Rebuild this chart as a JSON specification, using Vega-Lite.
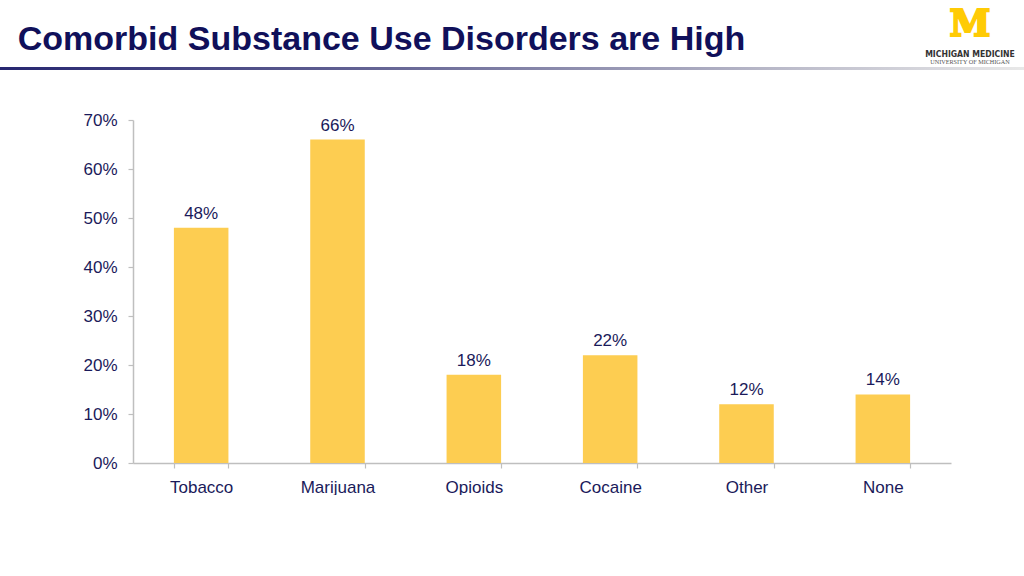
{
  "$schema": "https://vega.github.io/schema/vega-lite/v6.json",
  "padding": 0,
  "background": "white",
  "spacing": 0,
  "config": {"view": {"stroke": null}, "concat": {"spacing": 0}},
  "vconcat": [
    {
      "spacing": 153,
      "hconcat": [
        {
          "width": 763,
          "height": 67,
          "data": {"values": [{"t": "Comorbid Substance Use Disorders are High"}]},
          "mark": {"type": "text", "font": "Liberation Sans", "fontWeight": "bold", "fontSize": 34, "color": "#10105a", "baseline": "alphabetic", "align": "center", "dy": 16.5},
          "encoding": {"text": {"field": "t"}}
        },
        {
          "width": 108,
          "height": 67,
          "layer": [
            {
              "data": {"values": [{"t": "M"}]},
              "mark": {"type": "text", "font": "DejaVu Serif", "fontWeight": "bold", "fontSize": 37, "color": "#FFCB05", "stroke": "#FFCB05", "strokeWidth": 2, "baseline": "alphabetic", "align": "center", "dy": 2.5},
              "encoding": {"text": {"field": "t"}}
            },
            {
              "data": {"values": [{"t": "MICHIGAN MEDICINE"}]},
              "mark": {"type": "text", "font": "DejaVu Sans Condensed", "fontWeight": "bold", "fontSize": 8.6, "color": "#333333", "baseline": "alphabetic", "align": "center", "dy": 23},
              "encoding": {"text": {"field": "t"}}
            },
            {
              "data": {"values": [{"t": "UNIVERSITY OF MICHIGAN"}]},
              "mark": {"type": "text", "font": "Liberation Serif", "fontSize": 6.2, "color": "#555555", "baseline": "alphabetic", "align": "center", "dy": 30},
              "encoding": {"text": {"field": "t"}}
            }
          ]
        }
      ]
    },
    {
      "width": 1024,
      "height": 3,
      "data": {"values": [{}]},
      "mark": {
        "type": "rect",
        "fill": {
          "gradient": "linear",
          "x1": 0, "y1": 0, "x2": 1, "y2": 0,
          "stops": [
            {"offset": 0, "color": "#262670"},
            {"offset": 0.4, "color": "#6a6a98"},
            {"offset": 0.75, "color": "#b8b8c8"},
            {"offset": 1, "color": "#e8e8e8"}
          ]
        }
      },
      "encoding": {}
    },
    {
      "width": 1024,
      "height": 41,
      "data": {"values": []},
      "mark": "rect",
      "encoding": {}
    },
    {
      "spacing": 0,
      "hconcat": [
        {
          "width": 1,
          "height": 343,
          "data": {"values": []},
          "mark": "rect",
          "encoding": {}
        },
        {
          "width": 818,
          "height": 343,
          "data": {
            "values": [
              {"substance": "Tobacco", "share": 0.48},
              {"substance": "Marijuana", "share": 0.66},
              {"substance": "Opioids", "share": 0.18},
              {"substance": "Cocaine", "share": 0.22},
              {"substance": "Other", "share": 0.12},
              {"substance": "None", "share": 0.14}
            ]
          },
          "encoding": {
            "x": {
              "field": "substance",
              "type": "nominal",
              "sort": null,
              "scale": {"paddingInner": 0.6, "paddingOuter": 0.3},
              "axis": {
                "title": null,
                "labelAngle": 0,
                "tickBand": "extent",
                "domainColor": "#bfbfbf",
                "domainWidth": 1.5,
                "tickColor": "#bfbfbf",
                "tickWidth": 1.2,
                "tickSize": 5,
                "labelPadding": 11,
                "labelFont": "Liberation Sans",
                "labelFontSize": 17,
                "labelColor": "#1a1a5a"
              }
            },
            "y": {
              "field": "share",
              "type": "quantitative",
              "scale": {"domain": [0, 0.7], "nice": false},
              "axis": {
                "title": null,
                "values": [0, 0.1, 0.2, 0.3, 0.4, 0.5, 0.6, 0.7],
                "format": ".0%",
                "grid": false,
                "domainColor": "#bfbfbf",
                "domainWidth": 1.5,
                "tickColor": "#bfbfbf",
                "tickWidth": 1.2,
                "tickSize": 5,
                "labelPadding": 11,
                "labelFont": "Liberation Sans",
                "labelFontSize": 17,
                "labelColor": "#1a1a5a",
                "minExtent": 132,
                "maxExtent": 132
              }
            }
          },
          "layer": [
            {"mark": {"type": "bar", "color": "#FDCD51"}},
            {
              "mark": {"type": "text", "font": "Liberation Sans", "fontSize": 17, "color": "#1a1a5a", "baseline": "alphabetic", "dy": -9},
              "encoding": {"text": {"field": "share", "format": ".0%"}}
            }
          ]
        }
      ]
    }
  ]
}
